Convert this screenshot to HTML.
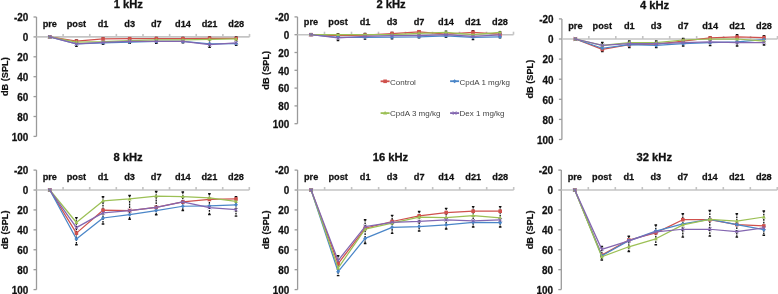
<!DOCTYPE html>
<html><head><meta charset="utf-8"><title>ABR thresholds</title>
<style>
html,body{margin:0;padding:0;background:#fff;}
body{width:778px;height:294px;overflow:hidden;}
svg{display:block;will-change:transform;}
text{font-family:"Liberation Sans",sans-serif;fill:#111;}
.t{font-size:11.2px;font-weight:bold;stroke:#111;stroke-width:0.3px;}
.n{font-size:9.9px;font-weight:bold;stroke:#111;stroke-width:0.25px;}
.c{font-size:9.2px;font-weight:bold;stroke:#111;stroke-width:0.25px;}
.yl{font-size:9.2px;font-weight:bold;stroke:#111;stroke-width:0.2px;}
.lg{font-size:8px;fill:#444;}
.ax{stroke:#9a9a9a;stroke-width:1.3;}
.zl{stroke:#c4c4c4;stroke-width:1.6;}
.eb{stroke:#111;stroke-width:1.3;fill:none;stroke-dasharray:1.8 0.9;}
.ec{stroke:#111;stroke-width:1.4;fill:none;}
</style></head>
<body>
<svg width="778" height="294" viewBox="0 0 778 294">
<rect width="778" height="294" fill="#fff"/>
<text x="128.3" y="7.8" class="t" text-anchor="middle">1 kHz</text>
<text class="yl" transform="translate(7.7 76.7) rotate(-90)" text-anchor="middle">dB (SPL)</text>
<text transform="translate(28.2 21.3) scale(1 1.05)" class="n" text-anchor="end">-20</text>
<line x1="33.5" y1="17" x2="36.5" y2="17" class="ax"/>
<text transform="translate(28.2 41.2) scale(1 1.05)" class="n" text-anchor="end">0</text>
<line x1="33.5" y1="36.9" x2="36.5" y2="36.9" class="ax"/>
<text transform="translate(28.2 61.1) scale(1 1.05)" class="n" text-anchor="end">20</text>
<line x1="33.5" y1="56.8" x2="36.5" y2="56.8" class="ax"/>
<text transform="translate(28.2 81) scale(1 1.05)" class="n" text-anchor="end">40</text>
<line x1="33.5" y1="76.7" x2="36.5" y2="76.7" class="ax"/>
<text transform="translate(28.2 100.9) scale(1 1.05)" class="n" text-anchor="end">60</text>
<line x1="33.5" y1="96.6" x2="36.5" y2="96.6" class="ax"/>
<text transform="translate(28.2 120.8) scale(1 1.05)" class="n" text-anchor="end">80</text>
<line x1="33.5" y1="116.5" x2="36.5" y2="116.5" class="ax"/>
<text transform="translate(28.2 140.7) scale(1 1.05)" class="n" text-anchor="end">100</text>
<line x1="33.5" y1="136.4" x2="36.5" y2="136.4" class="ax"/>
<line x1="36.5" y1="17" x2="36.5" y2="136.4" class="ax"/>
<line x1="36.5" y1="36.9" x2="249.5" y2="36.9" class="zl"/>
<line x1="63.12" y1="33.9" x2="63.12" y2="36.9" class="zl"/>
<line x1="89.75" y1="33.9" x2="89.75" y2="36.9" class="zl"/>
<line x1="116.38" y1="33.9" x2="116.38" y2="36.9" class="zl"/>
<line x1="143" y1="33.9" x2="143" y2="36.9" class="zl"/>
<line x1="169.62" y1="33.9" x2="169.62" y2="36.9" class="zl"/>
<line x1="196.25" y1="33.9" x2="196.25" y2="36.9" class="zl"/>
<line x1="222.88" y1="33.9" x2="222.88" y2="36.9" class="zl"/>
<line x1="249.5" y1="33.9" x2="249.5" y2="36.9" class="zl"/>
<text transform="translate(49.81 27.2) scale(1 1.06)" class="c" text-anchor="middle">pre</text>
<text transform="translate(76.44 27.2) scale(1 1.06)" class="c" text-anchor="middle">post</text>
<text transform="translate(103.06 27.2) scale(1 1.06)" class="c" text-anchor="middle">d1</text>
<text transform="translate(129.69 27.2) scale(1 1.06)" class="c" text-anchor="middle">d3</text>
<text transform="translate(156.31 27.2) scale(1 1.06)" class="c" text-anchor="middle">d7</text>
<text transform="translate(182.94 27.2) scale(1 1.06)" class="c" text-anchor="middle">d14</text>
<text transform="translate(209.56 27.2) scale(1 1.06)" class="c" text-anchor="middle">d21</text>
<text transform="translate(236.19 27.2) scale(1 1.06)" class="c" text-anchor="middle">d28</text>
<path d="M76.44 39.89V46.35" class="eb"/><path d="M75.14 39.89h2.6M75.14 46.35h2.6" class="ec"/>
<path d="M103.06 37.9V44.36" class="eb"/><path d="M101.76 37.9h2.6M101.76 44.36h2.6" class="ec"/>
<path d="M129.69 37.9V43.37" class="eb"/><path d="M128.39 37.9h2.6M128.39 43.37h2.6" class="ec"/>
<path d="M156.31 37.4V43.37" class="eb"/><path d="M155.01 37.4h2.6M155.01 43.37h2.6" class="ec"/>
<path d="M182.94 37.4V42.87" class="eb"/><path d="M181.64 37.4h2.6M181.64 42.87h2.6" class="ec"/>
<path d="M209.56 36.9V47.35" class="eb"/><path d="M208.26 36.9h2.6M208.26 47.35h2.6" class="ec"/>
<path d="M236.19 36.9V45.36" class="eb"/><path d="M234.89 36.9h2.6M234.89 45.36h2.6" class="ec"/>
<polyline points="49.81,36.9 76.44,41.08 103.06,38.99 129.69,38.69 156.31,38.69 182.94,38.69 209.56,38.29 236.19,38.49" fill="none" stroke="#cf504c" stroke-width="1.25" stroke-linejoin="round"/>
<rect x="48.01" y="35.1" width="3.6" height="3.6" fill="#cf504c"/>
<rect x="74.64" y="39.28" width="3.6" height="3.6" fill="#cf504c"/>
<rect x="101.26" y="37.19" width="3.6" height="3.6" fill="#cf504c"/>
<rect x="127.89" y="36.89" width="3.6" height="3.6" fill="#cf504c"/>
<rect x="154.51" y="36.89" width="3.6" height="3.6" fill="#cf504c"/>
<rect x="181.14" y="36.89" width="3.6" height="3.6" fill="#cf504c"/>
<rect x="207.76" y="36.49" width="3.6" height="3.6" fill="#cf504c"/>
<rect x="234.39" y="36.69" width="3.6" height="3.6" fill="#cf504c"/>
<polyline points="49.81,36.9 76.44,43.87 103.06,42.87 129.69,42.07 156.31,41.38 182.94,41.38 209.56,43.87 236.19,43.57" fill="none" stroke="#4a86c8" stroke-width="1.25" stroke-linejoin="round"/>
<path d="M49.81 34.9l2 2l-2 2l-2 -2z" fill="#4a86c8"/>
<path d="M76.44 41.87l2 2l-2 2l-2 -2z" fill="#4a86c8"/>
<path d="M103.06 40.87l2 2l-2 2l-2 -2z" fill="#4a86c8"/>
<path d="M129.69 40.07l2 2l-2 2l-2 -2z" fill="#4a86c8"/>
<path d="M156.31 39.38l2 2l-2 2l-2 -2z" fill="#4a86c8"/>
<path d="M182.94 39.38l2 2l-2 2l-2 -2z" fill="#4a86c8"/>
<path d="M209.56 41.87l2 2l-2 2l-2 -2z" fill="#4a86c8"/>
<path d="M236.19 41.57l2 2l-2 2l-2 -2z" fill="#4a86c8"/>
<polyline points="49.81,36.9 76.44,42.07 103.06,41.68 129.69,40.68 156.31,39.98 182.94,39.98 209.56,39.29 236.19,38.99" fill="none" stroke="#9cc055" stroke-width="1.25" stroke-linejoin="round"/>
<path d="M49.81 34.9l2 3.4h-4z" fill="#9cc055"/>
<path d="M76.44 40.07l2 3.4h-4z" fill="#9cc055"/>
<path d="M103.06 39.68l2 3.4h-4z" fill="#9cc055"/>
<path d="M129.69 38.68l2 3.4h-4z" fill="#9cc055"/>
<path d="M156.31 37.98l2 3.4h-4z" fill="#9cc055"/>
<path d="M182.94 37.98l2 3.4h-4z" fill="#9cc055"/>
<path d="M209.56 37.29l2 3.4h-4z" fill="#9cc055"/>
<path d="M236.19 36.99l2 3.4h-4z" fill="#9cc055"/>
<polyline points="49.81,36.9 76.44,43.87 103.06,42.47 129.69,41.38 156.31,41.38 182.94,41.38 209.56,44.66 236.19,42.87" fill="none" stroke="#8366b0" stroke-width="1.25" stroke-linejoin="round"/>
<path d="M48.11 35.2l3.4 3.4M51.51 35.2l-3.4 3.4" stroke="#8366b0" stroke-width="1"/>
<path d="M74.74 42.17l3.4 3.4M78.14 42.17l-3.4 3.4" stroke="#8366b0" stroke-width="1"/>
<path d="M101.36 40.77l3.4 3.4M104.76 40.77l-3.4 3.4" stroke="#8366b0" stroke-width="1"/>
<path d="M127.99 39.68l3.4 3.4M131.39 39.68l-3.4 3.4" stroke="#8366b0" stroke-width="1"/>
<path d="M154.61 39.68l3.4 3.4M158.01 39.68l-3.4 3.4" stroke="#8366b0" stroke-width="1"/>
<path d="M181.24 39.68l3.4 3.4M184.64 39.68l-3.4 3.4" stroke="#8366b0" stroke-width="1"/>
<path d="M207.86 42.96l3.4 3.4M211.26 42.96l-3.4 3.4" stroke="#8366b0" stroke-width="1"/>
<path d="M234.49 41.17l3.4 3.4M237.89 41.17l-3.4 3.4" stroke="#8366b0" stroke-width="1"/>
<text x="391.1" y="8.3" class="t" text-anchor="middle">2 kHz</text>
<text class="yl" transform="translate(268.7 70.3) rotate(-90)" text-anchor="middle">dB (SPL)</text>
<text transform="translate(289.2 21.2) scale(1 1.05)" class="n" text-anchor="end">-20</text>
<line x1="294.5" y1="16.9" x2="297.5" y2="16.9" class="ax"/>
<text transform="translate(289.2 39) scale(1 1.05)" class="n" text-anchor="end">0</text>
<line x1="294.5" y1="34.7" x2="297.5" y2="34.7" class="ax"/>
<text transform="translate(289.2 56.8) scale(1 1.05)" class="n" text-anchor="end">20</text>
<line x1="294.5" y1="52.5" x2="297.5" y2="52.5" class="ax"/>
<text transform="translate(289.2 74.6) scale(1 1.05)" class="n" text-anchor="end">40</text>
<line x1="294.5" y1="70.3" x2="297.5" y2="70.3" class="ax"/>
<text transform="translate(289.2 92.4) scale(1 1.05)" class="n" text-anchor="end">60</text>
<line x1="294.5" y1="88.1" x2="297.5" y2="88.1" class="ax"/>
<text transform="translate(289.2 110.2) scale(1 1.05)" class="n" text-anchor="end">80</text>
<line x1="294.5" y1="105.9" x2="297.5" y2="105.9" class="ax"/>
<text transform="translate(289.2 128) scale(1 1.05)" class="n" text-anchor="end">100</text>
<line x1="294.5" y1="123.7" x2="297.5" y2="123.7" class="ax"/>
<line x1="297.5" y1="16.9" x2="297.5" y2="123.7" class="ax"/>
<line x1="297.5" y1="34.7" x2="513.5" y2="34.7" class="zl"/>
<line x1="324.5" y1="31.7" x2="324.5" y2="34.7" class="zl"/>
<line x1="351.5" y1="31.7" x2="351.5" y2="34.7" class="zl"/>
<line x1="378.5" y1="31.7" x2="378.5" y2="34.7" class="zl"/>
<line x1="405.5" y1="31.7" x2="405.5" y2="34.7" class="zl"/>
<line x1="432.5" y1="31.7" x2="432.5" y2="34.7" class="zl"/>
<line x1="459.5" y1="31.7" x2="459.5" y2="34.7" class="zl"/>
<line x1="486.5" y1="31.7" x2="486.5" y2="34.7" class="zl"/>
<line x1="513.5" y1="31.7" x2="513.5" y2="34.7" class="zl"/>
<text transform="translate(311 24.7) scale(1 1.06)" class="c" text-anchor="middle">pre</text>
<text transform="translate(338 24.7) scale(1 1.06)" class="c" text-anchor="middle">post</text>
<text transform="translate(365 24.7) scale(1 1.06)" class="c" text-anchor="middle">d1</text>
<text transform="translate(392 24.7) scale(1 1.06)" class="c" text-anchor="middle">d3</text>
<text transform="translate(419 24.7) scale(1 1.06)" class="c" text-anchor="middle">d7</text>
<text transform="translate(446 24.7) scale(1 1.06)" class="c" text-anchor="middle">d14</text>
<text transform="translate(473 24.7) scale(1 1.06)" class="c" text-anchor="middle">d21</text>
<text transform="translate(500 24.7) scale(1 1.06)" class="c" text-anchor="middle">d28</text>
<path d="M338 33.81V40.66" class="eb"/><path d="M336.7 33.81h2.6M336.7 40.66h2.6" class="ec"/>
<path d="M365 33.36V39.15" class="eb"/><path d="M363.7 33.36h2.6M363.7 39.15h2.6" class="ec"/>
<path d="M392 32.48V38.7" class="eb"/><path d="M390.7 32.48h2.6M390.7 38.7h2.6" class="ec"/>
<path d="M419 30.7V37.81" class="eb"/><path d="M417.7 30.7h2.6M417.7 37.81h2.6" class="ec"/>
<path d="M446 31.14V37.37" class="eb"/><path d="M444.7 31.14h2.6M444.7 37.37h2.6" class="ec"/>
<path d="M473 30.7V39.51" class="eb"/><path d="M471.7 30.7h2.6M471.7 39.51h2.6" class="ec"/>
<path d="M500 31.59V37.81" class="eb"/><path d="M498.7 31.59h2.6M498.7 37.81h2.6" class="ec"/>
<polyline points="311,34.7 338,35.59 365,35.14 392,33.54 419,31.76 446,34.08 473,32.3 500,34.08" fill="none" stroke="#cf504c" stroke-width="1.25" stroke-linejoin="round"/>
<rect x="309.2" y="32.9" width="3.6" height="3.6" fill="#cf504c"/>
<rect x="336.2" y="33.79" width="3.6" height="3.6" fill="#cf504c"/>
<rect x="363.2" y="33.34" width="3.6" height="3.6" fill="#cf504c"/>
<rect x="390.2" y="31.74" width="3.6" height="3.6" fill="#cf504c"/>
<rect x="417.2" y="29.96" width="3.6" height="3.6" fill="#cf504c"/>
<rect x="444.2" y="32.28" width="3.6" height="3.6" fill="#cf504c"/>
<rect x="471.2" y="30.5" width="3.6" height="3.6" fill="#cf504c"/>
<rect x="498.2" y="32.28" width="3.6" height="3.6" fill="#cf504c"/>
<polyline points="311,34.7 338,37.37 365,37.37 392,37.19 419,36.84 446,35.86 473,37.28 500,36.84" fill="none" stroke="#4a86c8" stroke-width="1.25" stroke-linejoin="round"/>
<path d="M311 32.7l2 2l-2 2l-2 -2z" fill="#4a86c8"/>
<path d="M338 35.37l2 2l-2 2l-2 -2z" fill="#4a86c8"/>
<path d="M365 35.37l2 2l-2 2l-2 -2z" fill="#4a86c8"/>
<path d="M392 35.19l2 2l-2 2l-2 -2z" fill="#4a86c8"/>
<path d="M419 34.84l2 2l-2 2l-2 -2z" fill="#4a86c8"/>
<path d="M446 33.86l2 2l-2 2l-2 -2z" fill="#4a86c8"/>
<path d="M473 35.28l2 2l-2 2l-2 -2z" fill="#4a86c8"/>
<path d="M500 34.84l2 2l-2 2l-2 -2z" fill="#4a86c8"/>
<polyline points="311,34.7 338,34.7 365,34.7 392,34.7 419,33.28 446,32.3 473,34.7 500,32.3" fill="none" stroke="#9cc055" stroke-width="1.25" stroke-linejoin="round"/>
<path d="M311 32.7l2 3.4h-4z" fill="#9cc055"/>
<path d="M338 32.7l2 3.4h-4z" fill="#9cc055"/>
<path d="M365 32.7l2 3.4h-4z" fill="#9cc055"/>
<path d="M392 32.7l2 3.4h-4z" fill="#9cc055"/>
<path d="M419 31.28l2 3.4h-4z" fill="#9cc055"/>
<path d="M446 30.3l2 3.4h-4z" fill="#9cc055"/>
<path d="M473 32.7l2 3.4h-4z" fill="#9cc055"/>
<path d="M500 30.3l2 3.4h-4z" fill="#9cc055"/>
<polyline points="311,34.7 338,37.9 365,36.48 392,35.59 419,35.59 446,34.7 473,36.39 500,34.97" fill="none" stroke="#8366b0" stroke-width="1.25" stroke-linejoin="round"/>
<path d="M309.3 33l3.4 3.4M312.7 33l-3.4 3.4" stroke="#8366b0" stroke-width="1"/>
<path d="M336.3 36.2l3.4 3.4M339.7 36.2l-3.4 3.4" stroke="#8366b0" stroke-width="1"/>
<path d="M363.3 34.78l3.4 3.4M366.7 34.78l-3.4 3.4" stroke="#8366b0" stroke-width="1"/>
<path d="M390.3 33.89l3.4 3.4M393.7 33.89l-3.4 3.4" stroke="#8366b0" stroke-width="1"/>
<path d="M417.3 33.89l3.4 3.4M420.7 33.89l-3.4 3.4" stroke="#8366b0" stroke-width="1"/>
<path d="M444.3 33l3.4 3.4M447.7 33l-3.4 3.4" stroke="#8366b0" stroke-width="1"/>
<path d="M471.3 34.69l3.4 3.4M474.7 34.69l-3.4 3.4" stroke="#8366b0" stroke-width="1"/>
<path d="M498.3 33.27l3.4 3.4M501.7 33.27l-3.4 3.4" stroke="#8366b0" stroke-width="1"/>
<text x="654.5" y="8.6" class="t" text-anchor="middle">4 kHz</text>
<text class="yl" transform="translate(533.1 79.2) rotate(-90)" text-anchor="middle">dB (SPL)</text>
<text transform="translate(553.6 23.2) scale(1 1.05)" class="n" text-anchor="end">-20</text>
<line x1="558.9" y1="18.9" x2="561.9" y2="18.9" class="ax"/>
<text transform="translate(553.6 43.3) scale(1 1.05)" class="n" text-anchor="end">0</text>
<line x1="558.9" y1="39" x2="561.9" y2="39" class="ax"/>
<text transform="translate(553.6 63.4) scale(1 1.05)" class="n" text-anchor="end">20</text>
<line x1="558.9" y1="59.1" x2="561.9" y2="59.1" class="ax"/>
<text transform="translate(553.6 83.5) scale(1 1.05)" class="n" text-anchor="end">40</text>
<line x1="558.9" y1="79.2" x2="561.9" y2="79.2" class="ax"/>
<text transform="translate(553.6 103.6) scale(1 1.05)" class="n" text-anchor="end">60</text>
<line x1="558.9" y1="99.3" x2="561.9" y2="99.3" class="ax"/>
<text transform="translate(553.6 123.7) scale(1 1.05)" class="n" text-anchor="end">80</text>
<line x1="558.9" y1="119.4" x2="561.9" y2="119.4" class="ax"/>
<text transform="translate(553.6 143.8) scale(1 1.05)" class="n" text-anchor="end">100</text>
<line x1="558.9" y1="139.5" x2="561.9" y2="139.5" class="ax"/>
<line x1="561.9" y1="18.9" x2="561.9" y2="139.5" class="ax"/>
<line x1="561.9" y1="39" x2="777.5" y2="39" class="zl"/>
<line x1="588.85" y1="36" x2="588.85" y2="39" class="zl"/>
<line x1="615.8" y1="36" x2="615.8" y2="39" class="zl"/>
<line x1="642.75" y1="36" x2="642.75" y2="39" class="zl"/>
<line x1="669.7" y1="36" x2="669.7" y2="39" class="zl"/>
<line x1="696.65" y1="36" x2="696.65" y2="39" class="zl"/>
<line x1="723.6" y1="36" x2="723.6" y2="39" class="zl"/>
<line x1="750.55" y1="36" x2="750.55" y2="39" class="zl"/>
<line x1="777.5" y1="36" x2="777.5" y2="39" class="zl"/>
<text transform="translate(575.38 29.3) scale(1 1.06)" class="c" text-anchor="middle">pre</text>
<text transform="translate(602.32 29.3) scale(1 1.06)" class="c" text-anchor="middle">post</text>
<text transform="translate(629.27 29.3) scale(1 1.06)" class="c" text-anchor="middle">d1</text>
<text transform="translate(656.23 29.3) scale(1 1.06)" class="c" text-anchor="middle">d3</text>
<text transform="translate(683.17 29.3) scale(1 1.06)" class="c" text-anchor="middle">d7</text>
<text transform="translate(710.12 29.3) scale(1 1.06)" class="c" text-anchor="middle">d14</text>
<text transform="translate(737.08 29.3) scale(1 1.06)" class="c" text-anchor="middle">d21</text>
<text transform="translate(764.02 29.3) scale(1 1.06)" class="c" text-anchor="middle">d28</text>
<path d="M602.32 42.52V51.56" class="eb"/><path d="M601.02 42.52h2.6M601.02 51.56h2.6" class="ec"/>
<path d="M629.27 41.01V47.54" class="eb"/><path d="M627.98 41.01h2.6M627.98 47.54h2.6" class="ec"/>
<path d="M656.23 41.01V47.54" class="eb"/><path d="M654.93 41.01h2.6M654.93 47.54h2.6" class="ec"/>
<path d="M683.17 38.5V46.03" class="eb"/><path d="M681.88 38.5h2.6M681.88 46.03h2.6" class="ec"/>
<path d="M710.12 36.99V45.43" class="eb"/><path d="M708.83 36.99h2.6M708.83 45.43h2.6" class="ec"/>
<path d="M737.08 34.78V46.03" class="eb"/><path d="M735.78 34.78h2.6M735.78 46.03h2.6" class="ec"/>
<path d="M764.02 35.78V45.03" class="eb"/><path d="M762.73 35.78h2.6M762.73 45.03h2.6" class="ec"/>
<polyline points="575.38,39 602.32,49.45 629.27,44.73 656.23,44.23 683.17,41.01 710.12,37.99 737.08,36.99 764.02,37.59" fill="none" stroke="#cf504c" stroke-width="1.25" stroke-linejoin="round"/>
<rect x="573.58" y="37.2" width="3.6" height="3.6" fill="#cf504c"/>
<rect x="600.52" y="47.65" width="3.6" height="3.6" fill="#cf504c"/>
<rect x="627.48" y="42.93" width="3.6" height="3.6" fill="#cf504c"/>
<rect x="654.43" y="42.43" width="3.6" height="3.6" fill="#cf504c"/>
<rect x="681.38" y="39.21" width="3.6" height="3.6" fill="#cf504c"/>
<rect x="708.33" y="36.19" width="3.6" height="3.6" fill="#cf504c"/>
<rect x="735.28" y="35.19" width="3.6" height="3.6" fill="#cf504c"/>
<rect x="762.23" y="35.79" width="3.6" height="3.6" fill="#cf504c"/>
<polyline points="575.38,39 602.32,48.25 629.27,44.73 656.23,45.43 683.17,43.72 710.12,42.52 737.08,41.81 764.02,39.5" fill="none" stroke="#4a86c8" stroke-width="1.25" stroke-linejoin="round"/>
<path d="M575.38 37l2 2l-2 2l-2 -2z" fill="#4a86c8"/>
<path d="M602.32 46.25l2 2l-2 2l-2 -2z" fill="#4a86c8"/>
<path d="M629.27 42.73l2 2l-2 2l-2 -2z" fill="#4a86c8"/>
<path d="M656.23 43.43l2 2l-2 2l-2 -2z" fill="#4a86c8"/>
<path d="M683.17 41.72l2 2l-2 2l-2 -2z" fill="#4a86c8"/>
<path d="M710.12 40.52l2 2l-2 2l-2 -2z" fill="#4a86c8"/>
<path d="M737.08 39.81l2 2l-2 2l-2 -2z" fill="#4a86c8"/>
<path d="M764.02 37.5l2 2l-2 2l-2 -2z" fill="#4a86c8"/>
<polyline points="575.38,39 602.32,45.43 629.27,42.52 656.23,42.52 683.17,40 710.12,39 737.08,39 764.02,41.01" fill="none" stroke="#9cc055" stroke-width="1.25" stroke-linejoin="round"/>
<path d="M575.38 37l2 3.4h-4z" fill="#9cc055"/>
<path d="M602.32 43.43l2 3.4h-4z" fill="#9cc055"/>
<path d="M629.27 40.52l2 3.4h-4z" fill="#9cc055"/>
<path d="M656.23 40.52l2 3.4h-4z" fill="#9cc055"/>
<path d="M683.17 38l2 3.4h-4z" fill="#9cc055"/>
<path d="M710.12 37l2 3.4h-4z" fill="#9cc055"/>
<path d="M737.08 37l2 3.4h-4z" fill="#9cc055"/>
<path d="M764.02 39.01l2 3.4h-4z" fill="#9cc055"/>
<polyline points="575.38,39 602.32,45.43 629.27,43.72 656.23,43.72 683.17,42.52 710.12,41.81 737.08,42.52 764.02,42.52" fill="none" stroke="#8366b0" stroke-width="1.25" stroke-linejoin="round"/>
<path d="M573.67 37.3l3.4 3.4M577.08 37.3l-3.4 3.4" stroke="#8366b0" stroke-width="1"/>
<path d="M600.62 43.73l3.4 3.4M604.02 43.73l-3.4 3.4" stroke="#8366b0" stroke-width="1"/>
<path d="M627.57 42.02l3.4 3.4M630.98 42.02l-3.4 3.4" stroke="#8366b0" stroke-width="1"/>
<path d="M654.52 42.02l3.4 3.4M657.93 42.02l-3.4 3.4" stroke="#8366b0" stroke-width="1"/>
<path d="M681.47 40.82l3.4 3.4M684.88 40.82l-3.4 3.4" stroke="#8366b0" stroke-width="1"/>
<path d="M708.42 40.11l3.4 3.4M711.83 40.11l-3.4 3.4" stroke="#8366b0" stroke-width="1"/>
<path d="M735.38 40.82l3.4 3.4M738.78 40.82l-3.4 3.4" stroke="#8366b0" stroke-width="1"/>
<path d="M762.32 40.82l3.4 3.4M765.73 40.82l-3.4 3.4" stroke="#8366b0" stroke-width="1"/>
<text x="128.1" y="161" class="t" text-anchor="middle">8 kHz</text>
<text class="yl" transform="translate(7.7 229.85) rotate(-90)" text-anchor="middle">dB (SPL)</text>
<text transform="translate(28.2 174.4) scale(1 1.05)" class="n" text-anchor="end">-20</text>
<line x1="33.5" y1="170.1" x2="36.5" y2="170.1" class="ax"/>
<text transform="translate(28.2 194.32) scale(1 1.05)" class="n" text-anchor="end">0</text>
<line x1="33.5" y1="190.02" x2="36.5" y2="190.02" class="ax"/>
<text transform="translate(28.2 214.23) scale(1 1.05)" class="n" text-anchor="end">20</text>
<line x1="33.5" y1="209.93" x2="36.5" y2="209.93" class="ax"/>
<text transform="translate(28.2 234.15) scale(1 1.05)" class="n" text-anchor="end">40</text>
<line x1="33.5" y1="229.85" x2="36.5" y2="229.85" class="ax"/>
<text transform="translate(28.2 254.07) scale(1 1.05)" class="n" text-anchor="end">60</text>
<line x1="33.5" y1="249.77" x2="36.5" y2="249.77" class="ax"/>
<text transform="translate(28.2 273.98) scale(1 1.05)" class="n" text-anchor="end">80</text>
<line x1="33.5" y1="269.68" x2="36.5" y2="269.68" class="ax"/>
<text transform="translate(28.2 293.9) scale(1 1.05)" class="n" text-anchor="end">100</text>
<line x1="33.5" y1="289.6" x2="36.5" y2="289.6" class="ax"/>
<line x1="36.5" y1="170.1" x2="36.5" y2="289.6" class="ax"/>
<line x1="36.5" y1="190.02" x2="249.3" y2="190.02" class="zl"/>
<line x1="63.1" y1="187.02" x2="63.1" y2="190.02" class="zl"/>
<line x1="89.7" y1="187.02" x2="89.7" y2="190.02" class="zl"/>
<line x1="116.3" y1="187.02" x2="116.3" y2="190.02" class="zl"/>
<line x1="142.9" y1="187.02" x2="142.9" y2="190.02" class="zl"/>
<line x1="169.5" y1="187.02" x2="169.5" y2="190.02" class="zl"/>
<line x1="196.1" y1="187.02" x2="196.1" y2="190.02" class="zl"/>
<line x1="222.7" y1="187.02" x2="222.7" y2="190.02" class="zl"/>
<line x1="249.3" y1="187.02" x2="249.3" y2="190.02" class="zl"/>
<text transform="translate(49.8 180.32) scale(1 1.06)" class="c" text-anchor="middle">pre</text>
<text transform="translate(76.4 180.32) scale(1 1.06)" class="c" text-anchor="middle">post</text>
<text transform="translate(103 180.32) scale(1 1.06)" class="c" text-anchor="middle">d1</text>
<text transform="translate(129.6 180.32) scale(1 1.06)" class="c" text-anchor="middle">d3</text>
<text transform="translate(156.2 180.32) scale(1 1.06)" class="c" text-anchor="middle">d7</text>
<text transform="translate(182.8 180.32) scale(1 1.06)" class="c" text-anchor="middle">d14</text>
<text transform="translate(209.4 180.32) scale(1 1.06)" class="c" text-anchor="middle">d21</text>
<text transform="translate(236 180.32) scale(1 1.06)" class="c" text-anchor="middle">d28</text>
<path d="M76.4 217.6V244.79" class="eb"/><path d="M75.1 217.6h2.6M75.1 244.79h2.6" class="ec"/>
<path d="M103 196.69V224.07" class="eb"/><path d="M101.7 196.69h2.6M101.7 224.07h2.6" class="ec"/>
<path d="M129.6 195.49V219.29" class="eb"/><path d="M128.3 195.49h2.6M128.3 219.29h2.6" class="ec"/>
<path d="M156.2 191.51V214.71" class="eb"/><path d="M154.9 191.51h2.6M154.9 214.71h2.6" class="ec"/>
<path d="M182.8 192.01V210.53" class="eb"/><path d="M181.5 192.01h2.6M181.5 210.53h2.6" class="ec"/>
<path d="M209.4 193.8V214.51" class="eb"/><path d="M208.1 193.8h2.6M208.1 214.51h2.6" class="ec"/>
<path d="M236 196.59V216.11" class="eb"/><path d="M234.7 196.59h2.6M234.7 216.11h2.6" class="ec"/>
<polyline points="49.8,190.02 76.4,233.14 103,210.23 129.6,210.53 156.2,207.44 182.8,201.97 209.4,199.48 236,198.98" fill="none" stroke="#cf504c" stroke-width="1.25" stroke-linejoin="round"/>
<rect x="48" y="188.22" width="3.6" height="3.6" fill="#cf504c"/>
<rect x="74.6" y="231.34" width="3.6" height="3.6" fill="#cf504c"/>
<rect x="101.2" y="208.43" width="3.6" height="3.6" fill="#cf504c"/>
<rect x="127.8" y="208.73" width="3.6" height="3.6" fill="#cf504c"/>
<rect x="154.4" y="205.64" width="3.6" height="3.6" fill="#cf504c"/>
<rect x="181" y="200.17" width="3.6" height="3.6" fill="#cf504c"/>
<rect x="207.6" y="197.68" width="3.6" height="3.6" fill="#cf504c"/>
<rect x="234.2" y="197.18" width="3.6" height="3.6" fill="#cf504c"/>
<polyline points="49.8,190.02 76.4,239.01 103,218 129.6,214.51 156.2,210.53 182.8,206.25 209.4,205.95 236,204.85" fill="none" stroke="#4a86c8" stroke-width="1.25" stroke-linejoin="round"/>
<path d="M49.8 188.02l2 2l-2 2l-2 -2z" fill="#4a86c8"/>
<path d="M76.4 237.01l2 2l-2 2l-2 -2z" fill="#4a86c8"/>
<path d="M103 216l2 2l-2 2l-2 -2z" fill="#4a86c8"/>
<path d="M129.6 212.51l2 2l-2 2l-2 -2z" fill="#4a86c8"/>
<path d="M156.2 208.53l2 2l-2 2l-2 -2z" fill="#4a86c8"/>
<path d="M182.8 204.25l2 2l-2 2l-2 -2z" fill="#4a86c8"/>
<path d="M209.4 203.95l2 2l-2 2l-2 -2z" fill="#4a86c8"/>
<path d="M236 202.85l2 2l-2 2l-2 -2z" fill="#4a86c8"/>
<polyline points="49.8,190.02 76.4,222.48 103,200.97 129.6,198.98 156.2,196.19 182.8,196.69 209.4,197.88 236,201.47" fill="none" stroke="#9cc055" stroke-width="1.25" stroke-linejoin="round"/>
<path d="M49.8 188.02l2 3.4h-4z" fill="#9cc055"/>
<path d="M76.4 220.48l2 3.4h-4z" fill="#9cc055"/>
<path d="M103 198.97l2 3.4h-4z" fill="#9cc055"/>
<path d="M129.6 196.98l2 3.4h-4z" fill="#9cc055"/>
<path d="M156.2 194.19l2 3.4h-4z" fill="#9cc055"/>
<path d="M182.8 194.69l2 3.4h-4z" fill="#9cc055"/>
<path d="M209.4 195.88l2 3.4h-4z" fill="#9cc055"/>
<path d="M236 199.47l2 3.4h-4z" fill="#9cc055"/>
<polyline points="49.8,190.02 76.4,227.66 103,212.92 129.6,210.53 156.2,207.44 182.8,201.97 209.4,207.54 236,209.73" fill="none" stroke="#8366b0" stroke-width="1.25" stroke-linejoin="round"/>
<path d="M48.1 188.32l3.4 3.4M51.5 188.32l-3.4 3.4" stroke="#8366b0" stroke-width="1"/>
<path d="M74.7 225.96l3.4 3.4M78.1 225.96l-3.4 3.4" stroke="#8366b0" stroke-width="1"/>
<path d="M101.3 211.22l3.4 3.4M104.7 211.22l-3.4 3.4" stroke="#8366b0" stroke-width="1"/>
<path d="M127.9 208.83l3.4 3.4M131.3 208.83l-3.4 3.4" stroke="#8366b0" stroke-width="1"/>
<path d="M154.5 205.74l3.4 3.4M157.9 205.74l-3.4 3.4" stroke="#8366b0" stroke-width="1"/>
<path d="M181.1 200.27l3.4 3.4M184.5 200.27l-3.4 3.4" stroke="#8366b0" stroke-width="1"/>
<path d="M207.7 205.84l3.4 3.4M211.1 205.84l-3.4 3.4" stroke="#8366b0" stroke-width="1"/>
<path d="M234.3 208.03l3.4 3.4M237.7 208.03l-3.4 3.4" stroke="#8366b0" stroke-width="1"/>
<text x="390.4" y="161" class="t" text-anchor="middle">16 kHz</text>
<text class="yl" transform="translate(268.8 229.85) rotate(-90)" text-anchor="middle">dB (SPL)</text>
<text transform="translate(289.3 174.4) scale(1 1.05)" class="n" text-anchor="end">-20</text>
<line x1="294.6" y1="170.1" x2="297.6" y2="170.1" class="ax"/>
<text transform="translate(289.3 194.32) scale(1 1.05)" class="n" text-anchor="end">0</text>
<line x1="294.6" y1="190.02" x2="297.6" y2="190.02" class="ax"/>
<text transform="translate(289.3 214.23) scale(1 1.05)" class="n" text-anchor="end">20</text>
<line x1="294.6" y1="209.93" x2="297.6" y2="209.93" class="ax"/>
<text transform="translate(289.3 234.15) scale(1 1.05)" class="n" text-anchor="end">40</text>
<line x1="294.6" y1="229.85" x2="297.6" y2="229.85" class="ax"/>
<text transform="translate(289.3 254.07) scale(1 1.05)" class="n" text-anchor="end">60</text>
<line x1="294.6" y1="249.77" x2="297.6" y2="249.77" class="ax"/>
<text transform="translate(289.3 273.98) scale(1 1.05)" class="n" text-anchor="end">80</text>
<line x1="294.6" y1="269.68" x2="297.6" y2="269.68" class="ax"/>
<text transform="translate(289.3 293.9) scale(1 1.05)" class="n" text-anchor="end">100</text>
<line x1="294.6" y1="289.6" x2="297.6" y2="289.6" class="ax"/>
<line x1="297.6" y1="170.1" x2="297.6" y2="289.6" class="ax"/>
<line x1="297.6" y1="190.02" x2="513.7" y2="190.02" class="zl"/>
<line x1="324.61" y1="187.02" x2="324.61" y2="190.02" class="zl"/>
<line x1="351.62" y1="187.02" x2="351.62" y2="190.02" class="zl"/>
<line x1="378.64" y1="187.02" x2="378.64" y2="190.02" class="zl"/>
<line x1="405.65" y1="187.02" x2="405.65" y2="190.02" class="zl"/>
<line x1="432.66" y1="187.02" x2="432.66" y2="190.02" class="zl"/>
<line x1="459.68" y1="187.02" x2="459.68" y2="190.02" class="zl"/>
<line x1="486.69" y1="187.02" x2="486.69" y2="190.02" class="zl"/>
<line x1="513.7" y1="187.02" x2="513.7" y2="190.02" class="zl"/>
<text transform="translate(311.11 180.32) scale(1 1.06)" class="c" text-anchor="middle">pre</text>
<text transform="translate(338.12 180.32) scale(1 1.06)" class="c" text-anchor="middle">post</text>
<text transform="translate(365.13 180.32) scale(1 1.06)" class="c" text-anchor="middle">d1</text>
<text transform="translate(392.14 180.32) scale(1 1.06)" class="c" text-anchor="middle">d3</text>
<text transform="translate(419.16 180.32) scale(1 1.06)" class="c" text-anchor="middle">d7</text>
<text transform="translate(446.17 180.32) scale(1 1.06)" class="c" text-anchor="middle">d14</text>
<text transform="translate(473.18 180.32) scale(1 1.06)" class="c" text-anchor="middle">d21</text>
<text transform="translate(500.19 180.32) scale(1 1.06)" class="c" text-anchor="middle">d28</text>
<path d="M338.12 255.74V275.66" class="eb"/><path d="M336.82 255.74h2.6M336.82 275.66h2.6" class="ec"/>
<path d="M365.13 219.69V243.49" class="eb"/><path d="M363.83 219.69h2.6M363.83 243.49h2.6" class="ec"/>
<path d="M392.14 215.41V233.34" class="eb"/><path d="M390.84 215.41h2.6M390.84 233.34h2.6" class="ec"/>
<path d="M419.16 211.53V231.05" class="eb"/><path d="M417.86 211.53h2.6M417.86 231.05h2.6" class="ec"/>
<path d="M446.17 208.34V229.05" class="eb"/><path d="M444.87 208.34h2.6M444.87 229.05h2.6" class="ec"/>
<path d="M473.18 206.65V227.06" class="eb"/><path d="M471.88 206.65h2.6M471.88 227.06h2.6" class="ec"/>
<path d="M500.19 206.65V227.06" class="eb"/><path d="M498.89 206.65h2.6M498.89 227.06h2.6" class="ec"/>
<polyline points="311.11,190.02 338.12,263.71 365.13,228.26 392.14,221.49 419.16,215.91 446.17,212.52 473.18,211.23 500.19,211.23" fill="none" stroke="#cf504c" stroke-width="1.25" stroke-linejoin="round"/>
<rect x="309.31" y="188.22" width="3.6" height="3.6" fill="#cf504c"/>
<rect x="336.32" y="261.91" width="3.6" height="3.6" fill="#cf504c"/>
<rect x="363.33" y="226.46" width="3.6" height="3.6" fill="#cf504c"/>
<rect x="390.34" y="219.69" width="3.6" height="3.6" fill="#cf504c"/>
<rect x="417.36" y="214.11" width="3.6" height="3.6" fill="#cf504c"/>
<rect x="444.37" y="210.72" width="3.6" height="3.6" fill="#cf504c"/>
<rect x="471.38" y="209.43" width="3.6" height="3.6" fill="#cf504c"/>
<rect x="498.39" y="209.43" width="3.6" height="3.6" fill="#cf504c"/>
<polyline points="311.11,190.02 338.12,271.68 365.13,238.41 392.14,227.36 419.16,226.56 446.17,224.87 473.18,222.28 500.19,222.68" fill="none" stroke="#4a86c8" stroke-width="1.25" stroke-linejoin="round"/>
<path d="M311.11 188.02l2 2l-2 2l-2 -2z" fill="#4a86c8"/>
<path d="M338.12 269.68l2 2l-2 2l-2 -2z" fill="#4a86c8"/>
<path d="M365.13 236.41l2 2l-2 2l-2 -2z" fill="#4a86c8"/>
<path d="M392.14 225.36l2 2l-2 2l-2 -2z" fill="#4a86c8"/>
<path d="M419.16 224.56l2 2l-2 2l-2 -2z" fill="#4a86c8"/>
<path d="M446.17 222.87l2 2l-2 2l-2 -2z" fill="#4a86c8"/>
<path d="M473.18 220.28l2 2l-2 2l-2 -2z" fill="#4a86c8"/>
<path d="M500.19 220.68l2 2l-2 2l-2 -2z" fill="#4a86c8"/>
<polyline points="311.11,190.02 338.12,268.09 365.13,229.05 392.14,223.08 419.16,217.1 446.17,217.6 473.18,215.51 500.19,217.9" fill="none" stroke="#9cc055" stroke-width="1.25" stroke-linejoin="round"/>
<path d="M311.11 188.02l2 3.4h-4z" fill="#9cc055"/>
<path d="M338.12 266.09l2 3.4h-4z" fill="#9cc055"/>
<path d="M365.13 227.05l2 3.4h-4z" fill="#9cc055"/>
<path d="M392.14 221.08l2 3.4h-4z" fill="#9cc055"/>
<path d="M419.16 215.1l2 3.4h-4z" fill="#9cc055"/>
<path d="M446.17 215.6l2 3.4h-4z" fill="#9cc055"/>
<path d="M473.18 213.51l2 3.4h-4z" fill="#9cc055"/>
<path d="M500.19 215.9l2 3.4h-4z" fill="#9cc055"/>
<polyline points="311.11,190.02 338.12,260.52 365.13,226.56 392.14,222.28 419.16,221.49 446.17,219.79 473.18,220.79 500.19,219.89" fill="none" stroke="#8366b0" stroke-width="1.25" stroke-linejoin="round"/>
<path d="M309.41 188.32l3.4 3.4M312.81 188.32l-3.4 3.4" stroke="#8366b0" stroke-width="1"/>
<path d="M336.42 258.82l3.4 3.4M339.82 258.82l-3.4 3.4" stroke="#8366b0" stroke-width="1"/>
<path d="M363.43 224.86l3.4 3.4M366.83 224.86l-3.4 3.4" stroke="#8366b0" stroke-width="1"/>
<path d="M390.44 220.58l3.4 3.4M393.84 220.58l-3.4 3.4" stroke="#8366b0" stroke-width="1"/>
<path d="M417.46 219.79l3.4 3.4M420.86 219.79l-3.4 3.4" stroke="#8366b0" stroke-width="1"/>
<path d="M444.47 218.09l3.4 3.4M447.87 218.09l-3.4 3.4" stroke="#8366b0" stroke-width="1"/>
<path d="M471.48 219.09l3.4 3.4M474.88 219.09l-3.4 3.4" stroke="#8366b0" stroke-width="1"/>
<path d="M498.49 218.19l3.4 3.4M501.89 218.19l-3.4 3.4" stroke="#8366b0" stroke-width="1"/>
<text x="654.3" y="161" class="t" text-anchor="middle">32 kHz</text>
<text class="yl" transform="translate(532.5 229.85) rotate(-90)" text-anchor="middle">dB (SPL)</text>
<text transform="translate(553 174.4) scale(1 1.05)" class="n" text-anchor="end">-20</text>
<line x1="558.3" y1="170.1" x2="561.3" y2="170.1" class="ax"/>
<text transform="translate(553 194.32) scale(1 1.05)" class="n" text-anchor="end">0</text>
<line x1="558.3" y1="190.02" x2="561.3" y2="190.02" class="ax"/>
<text transform="translate(553 214.23) scale(1 1.05)" class="n" text-anchor="end">20</text>
<line x1="558.3" y1="209.93" x2="561.3" y2="209.93" class="ax"/>
<text transform="translate(553 234.15) scale(1 1.05)" class="n" text-anchor="end">40</text>
<line x1="558.3" y1="229.85" x2="561.3" y2="229.85" class="ax"/>
<text transform="translate(553 254.07) scale(1 1.05)" class="n" text-anchor="end">60</text>
<line x1="558.3" y1="249.77" x2="561.3" y2="249.77" class="ax"/>
<text transform="translate(553 273.98) scale(1 1.05)" class="n" text-anchor="end">80</text>
<line x1="558.3" y1="269.68" x2="561.3" y2="269.68" class="ax"/>
<text transform="translate(553 293.9) scale(1 1.05)" class="n" text-anchor="end">100</text>
<line x1="558.3" y1="289.6" x2="561.3" y2="289.6" class="ax"/>
<line x1="561.3" y1="170.1" x2="561.3" y2="289.6" class="ax"/>
<line x1="561.3" y1="190.02" x2="777.3" y2="190.02" class="zl"/>
<line x1="588.3" y1="187.02" x2="588.3" y2="190.02" class="zl"/>
<line x1="615.3" y1="187.02" x2="615.3" y2="190.02" class="zl"/>
<line x1="642.3" y1="187.02" x2="642.3" y2="190.02" class="zl"/>
<line x1="669.3" y1="187.02" x2="669.3" y2="190.02" class="zl"/>
<line x1="696.3" y1="187.02" x2="696.3" y2="190.02" class="zl"/>
<line x1="723.3" y1="187.02" x2="723.3" y2="190.02" class="zl"/>
<line x1="750.3" y1="187.02" x2="750.3" y2="190.02" class="zl"/>
<line x1="777.3" y1="187.02" x2="777.3" y2="190.02" class="zl"/>
<text transform="translate(574.8 180.32) scale(1 1.06)" class="c" text-anchor="middle">pre</text>
<text transform="translate(601.8 180.32) scale(1 1.06)" class="c" text-anchor="middle">post</text>
<text transform="translate(628.8 180.32) scale(1 1.06)" class="c" text-anchor="middle">d1</text>
<text transform="translate(655.8 180.32) scale(1 1.06)" class="c" text-anchor="middle">d3</text>
<text transform="translate(682.8 180.32) scale(1 1.06)" class="c" text-anchor="middle">d7</text>
<text transform="translate(709.8 180.32) scale(1 1.06)" class="c" text-anchor="middle">d14</text>
<text transform="translate(736.8 180.32) scale(1 1.06)" class="c" text-anchor="middle">d21</text>
<text transform="translate(763.8 180.32) scale(1 1.06)" class="c" text-anchor="middle">d28</text>
<path d="M601.8 246.38V260.02" class="eb"/><path d="M600.5 246.38h2.6M600.5 260.02h2.6" class="ec"/>
<path d="M628.8 236.22V251.56" class="eb"/><path d="M627.5 236.22h2.6M627.5 251.56h2.6" class="ec"/>
<path d="M655.8 225.07V244.69" class="eb"/><path d="M654.5 225.07h2.6M654.5 244.69h2.6" class="ec"/>
<path d="M682.8 213.72V237.12" class="eb"/><path d="M681.5 213.72h2.6M681.5 237.12h2.6" class="ec"/>
<path d="M709.8 210.53V236.12" class="eb"/><path d="M708.5 210.53h2.6M708.5 236.12h2.6" class="ec"/>
<path d="M736.8 213.72V237.12" class="eb"/><path d="M735.5 213.72h2.6M735.5 237.12h2.6" class="ec"/>
<path d="M763.8 210.93V235.23" class="eb"/><path d="M762.5 210.93h2.6M762.5 235.23h2.6" class="ec"/>
<polyline points="574.8,190.02 601.8,255.14 628.8,240.01 655.8,232.84 682.8,219.69 709.8,219.69 736.8,224.57 763.8,225.97" fill="none" stroke="#cf504c" stroke-width="1.25" stroke-linejoin="round"/>
<rect x="573" y="188.22" width="3.6" height="3.6" fill="#cf504c"/>
<rect x="600" y="253.34" width="3.6" height="3.6" fill="#cf504c"/>
<rect x="627" y="238.21" width="3.6" height="3.6" fill="#cf504c"/>
<rect x="654" y="231.04" width="3.6" height="3.6" fill="#cf504c"/>
<rect x="681" y="217.89" width="3.6" height="3.6" fill="#cf504c"/>
<rect x="708" y="217.89" width="3.6" height="3.6" fill="#cf504c"/>
<rect x="735" y="222.77" width="3.6" height="3.6" fill="#cf504c"/>
<rect x="762" y="224.17" width="3.6" height="3.6" fill="#cf504c"/>
<polyline points="574.8,190.02 601.8,255.74 628.8,240.8 655.8,231.05 682.8,223.88 709.8,219.29 736.8,224.57 763.8,229.65" fill="none" stroke="#4a86c8" stroke-width="1.25" stroke-linejoin="round"/>
<path d="M574.8 188.02l2 2l-2 2l-2 -2z" fill="#4a86c8"/>
<path d="M601.8 253.74l2 2l-2 2l-2 -2z" fill="#4a86c8"/>
<path d="M628.8 238.8l2 2l-2 2l-2 -2z" fill="#4a86c8"/>
<path d="M655.8 229.05l2 2l-2 2l-2 -2z" fill="#4a86c8"/>
<path d="M682.8 221.88l2 2l-2 2l-2 -2z" fill="#4a86c8"/>
<path d="M709.8 217.29l2 2l-2 2l-2 -2z" fill="#4a86c8"/>
<path d="M736.8 222.57l2 2l-2 2l-2 -2z" fill="#4a86c8"/>
<path d="M763.8 227.65l2 2l-2 2l-2 -2z" fill="#4a86c8"/>
<polyline points="574.8,190.02 601.8,256.74 628.8,246.78 655.8,238.81 682.8,224.87 709.8,219.29 736.8,221.19 763.8,217" fill="none" stroke="#9cc055" stroke-width="1.25" stroke-linejoin="round"/>
<path d="M574.8 188.02l2 3.4h-4z" fill="#9cc055"/>
<path d="M601.8 254.74l2 3.4h-4z" fill="#9cc055"/>
<path d="M628.8 244.78l2 3.4h-4z" fill="#9cc055"/>
<path d="M655.8 236.81l2 3.4h-4z" fill="#9cc055"/>
<path d="M682.8 222.87l2 3.4h-4z" fill="#9cc055"/>
<path d="M709.8 217.29l2 3.4h-4z" fill="#9cc055"/>
<path d="M736.8 219.19l2 3.4h-4z" fill="#9cc055"/>
<path d="M763.8 215l2 3.4h-4z" fill="#9cc055"/>
<polyline points="574.8,190.02 601.8,249.37 628.8,240.8 655.8,231.84 682.8,229.25 709.8,229.25 736.8,231.54 763.8,227.76" fill="none" stroke="#8366b0" stroke-width="1.25" stroke-linejoin="round"/>
<path d="M573.1 188.32l3.4 3.4M576.5 188.32l-3.4 3.4" stroke="#8366b0" stroke-width="1"/>
<path d="M600.1 247.67l3.4 3.4M603.5 247.67l-3.4 3.4" stroke="#8366b0" stroke-width="1"/>
<path d="M627.1 239.1l3.4 3.4M630.5 239.1l-3.4 3.4" stroke="#8366b0" stroke-width="1"/>
<path d="M654.1 230.14l3.4 3.4M657.5 230.14l-3.4 3.4" stroke="#8366b0" stroke-width="1"/>
<path d="M681.1 227.55l3.4 3.4M684.5 227.55l-3.4 3.4" stroke="#8366b0" stroke-width="1"/>
<path d="M708.1 227.55l3.4 3.4M711.5 227.55l-3.4 3.4" stroke="#8366b0" stroke-width="1"/>
<path d="M735.1 229.84l3.4 3.4M738.5 229.84l-3.4 3.4" stroke="#8366b0" stroke-width="1"/>
<path d="M762.1 226.06l3.4 3.4M765.5 226.06l-3.4 3.4" stroke="#8366b0" stroke-width="1"/>
<line x1="380.6" y1="81.3" x2="389.6" y2="81.3" stroke="#cf504c" stroke-width="1.8"/>
<rect x="383.3" y="79.5" width="3.6" height="3.6" fill="#cf504c"/>
<text x="390.1" y="84.6" class="lg">Control</text>
<line x1="450.1" y1="81.2" x2="459.1" y2="81.2" stroke="#4a86c8" stroke-width="1.8"/>
<path d="M454.6 79.2l2 2l-2 2l-2 -2z" fill="#4a86c8"/>
<text x="459.6" y="84.5" class="lg">CpdA 1 mg/kg</text>
<line x1="380.6" y1="113.1" x2="389.6" y2="113.1" stroke="#9cc055" stroke-width="1.8"/>
<path d="M385.1 111.1l2 3.4h-4z" fill="#9cc055"/>
<text x="390.1" y="116.4" class="lg">CpdA 3 mg/kg</text>
<line x1="450.1" y1="113.1" x2="459.1" y2="113.1" stroke="#8366b0" stroke-width="1.8"/>
<path d="M452.9 111.4l3.4 3.4M456.3 111.4l-3.4 3.4" stroke="#8366b0" stroke-width="1"/>
<text x="459.6" y="116.4" class="lg">Dex 1 mg/kg</text>
</svg>
</body></html>
